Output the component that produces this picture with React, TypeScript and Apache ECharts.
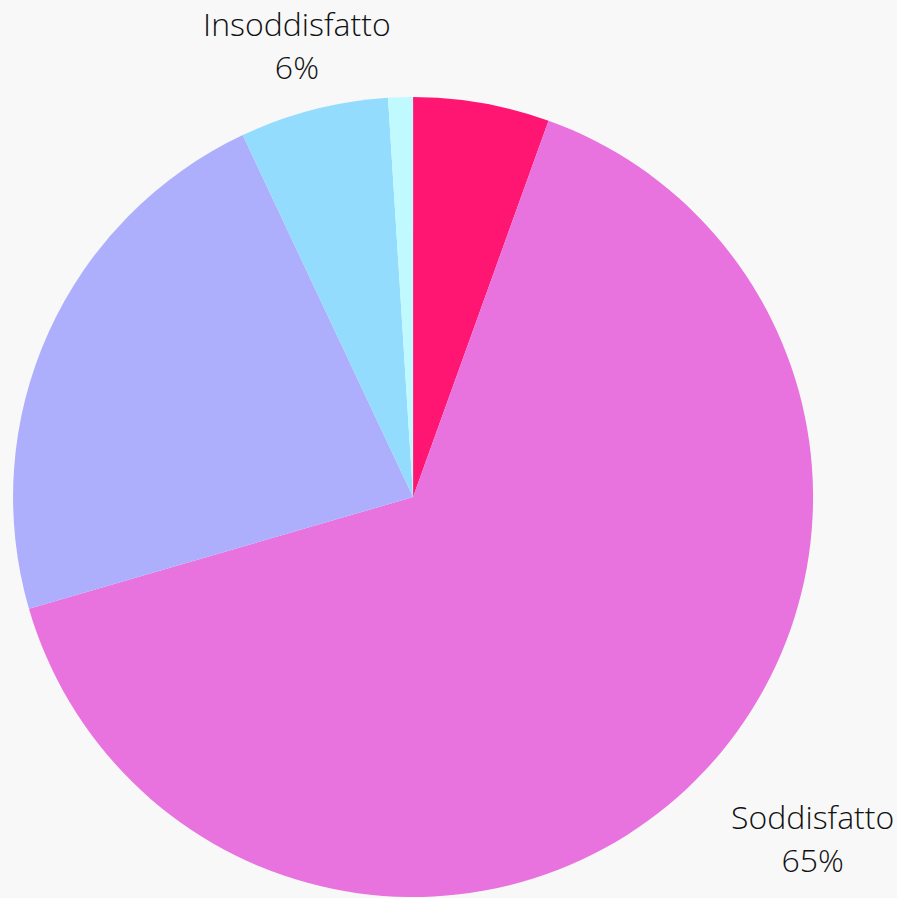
import React, { useEffect, useRef } from "react";
import * as echarts from "echarts";

const categories = ["Molto soddisfatto", "Soddisfatto", "Neutrale", "Insoddisfatto", "Molto insoddisfatto"];
const values = [5.5, 65, 22.5, 6, 1];
const colors = ["#FF1572", "#E872DE", "#ADAFFD", "#93DCFD", "#C0FAFE"];
const labelled = ["Soddisfatto", "Insoddisfatto"];

export default function App() {
  const ref = useRef<HTMLDivElement>(null);
  useEffect(() => {
    if (!ref.current) return;
    const chart = echarts.init(ref.current, null, { renderer: "svg" });
    chart.setOption({
      animation: false,
      backgroundColor: "#f8f8f8",
      series: [
        {
          type: "pie",
          center: ["46.05%", "55.35%"],
          radius: 400,
          startAngle: 90,
          clockwise: true,
          percentPrecision: 0,
          data: categories.map((name, i) => ({
            name,
            value: values[i],
            itemStyle: { color: colors[i] },
            label: { show: labelled.includes(name) },
          })),
          label: {
            position: "outside",
            formatter: "{b}\n{d}%",
            fontFamily: "Open Sans",
            fontWeight: 300,
            fontSize: 32,
            lineHeight: 43,
            color: "#111",
            overflow: "none",
            width: 400,
            align: "center",
          },
          labelLine: { show: false },
          labelLayout: (params: any) => {
            if (params.text && params.text.indexOf("Insoddisfatto") === 0) {
              return { x: "33.1%", y: "5.0%", align: "center", verticalAlign: "middle" };
            }
            return { x: "90.6%", y: "93.3%", align: "center", verticalAlign: "middle" };
          },
        },
      ],
    });
    return () => chart.dispose();
  }, []);
  return (
    <div
      ref={ref}
      style={{ position: "absolute", left: 0, top: 0, width: 897, height: 898 }}
    />
  );
}
